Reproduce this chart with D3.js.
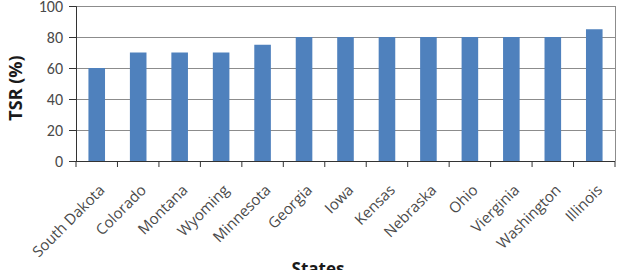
<!DOCTYPE html>
<html lang="en">
<head>
<meta charset="UTF-8">
<title>TSR by state</title>
<style>
  body { margin: 0; background: #fff; }
  text { font-family: "Open Sans", sans-serif; fill: #4a4a4a; }
  .grid line { stroke: #8c8c8c; stroke-width: 1; }
</style>
</head>
<body>
<svg width="629" height="270"></svg>
<script src="https://d3js.org/d3.v7.min.js"></script>
<script>
(function() {
    'use strict';

    var states = ["South Dakota", "Colorado", "Montana", "Wyoming", "Minnesota", "Georgia",
                  "Iowa", "Kensas", "Nebraska", "Ohio", "Vierginia", "Washington", "Illinois"];
    var tsr = [60, 70, 70, 70, 75, 80, 80, 80, 80, 80, 80, 80, 85];
    var yTicks = [0, 20, 40, 60, 80, 100];

    var LEFT = 76, RIGHT = 615, TOP = 6, BOTTOM = 161;

    var svg = d3.select("svg");

    var x = d3.scaleBand()
        .domain(states)
        .range([LEFT, RIGHT])
        .paddingInner(0.6)
        .paddingOuter(0.3);

    var y = d3.scaleLinear()
        .domain([0, 100])
        .range([BOTTOM, TOP]);

    // gridlines
    svg.append("g").attr("class", "grid")
        .selectAll("line")
        .data(yTicks.slice(1))
        .enter().append("line")
        .attr("x1", LEFT).attr("x2", RIGHT)
        .attr("y1", function(d) { return y(d) + 0.5; })
        .attr("y2", function(d) { return y(d) + 0.5; });

    // right border
    svg.append("line")
        .attr("x1", RIGHT + 0.5).attr("x2", RIGHT + 0.5)
        .attr("y1", TOP).attr("y2", BOTTOM)
        .attr("stroke", "#8c8c8c");

    // bars
    svg.selectAll(".bar")
        .data(states)
        .enter().append("rect")
        .attr("class", "bar")
        .attr("x", function(d) { return x(d); })
        .attr("width", x.bandwidth())
        .attr("y", function(d, i) { return y(tsr[i]); })
        .attr("height", function(d, i) { return BOTTOM - y(tsr[i]); })
        .attr("fill", "#4f81bd");

    // y axis
    var yAxis = svg.append("g")
        .attr("transform", "translate(" + LEFT + ",0)")
        .call(d3.axisLeft(y).tickValues(yTicks).tickSize(7).tickPadding(6));
    yAxis.selectAll("path, line").attr("stroke", "#333");
    yAxis.selectAll("text").style("font-size", "16px").style("font-family", "Carlito, 'Open Sans', sans-serif")
        .attr("fill", "#4a4a4a");

    // x axis: ticks at band boundaries
    var step = x.step();
    var bounds = states.map(function(d) { return x(d) - step * 0.3; }).concat([RIGHT]);
    svg.append("line")
        .attr("x1", LEFT).attr("x2", RIGHT)
        .attr("y1", BOTTOM + 0.5).attr("y2", BOTTOM + 0.5)
        .attr("stroke", "#333");
    svg.selectAll(".xtick")
        .data(bounds)
        .enter().append("line")
        .attr("class", "xtick")
        .attr("x1", function(d) { return d; }).attr("x2", function(d) { return d; })
        .attr("y1", BOTTOM).attr("y2", BOTTOM + 6)
        .attr("stroke", "#333");

    svg.selectAll(".xlabel")
        .data(states)
        .enter().append("text")
        .attr("class", "xlabel")
        .attr("text-anchor", "end")
        .style("font-size", "15px")
        .attr("transform", function(d) {
            return "translate(" + (x(d) + x.bandwidth() / 2 + 9) + "," + (BOTTOM + 30) + ") rotate(-45)";
        })
        .text(function(d) { return d; });

    // axis titles
    svg.append("text")
        .attr("transform", "translate(22,88) rotate(-90)")
        .attr("text-anchor", "middle")
        .style("font-size", "18px")
        .style("font-weight", "bold")
        .style("fill", "#1a1a1a")
        .text("TSR (%)");

    svg.append("text")
        .attr("x", 318)
        .attr("y", 275)
        .attr("text-anchor", "middle")
        .style("font-size", "17px")
        .style("font-weight", "bold")
        .style("fill", "#1a1a1a")
        .text("States");
})();
</script>
</body>
</html>
